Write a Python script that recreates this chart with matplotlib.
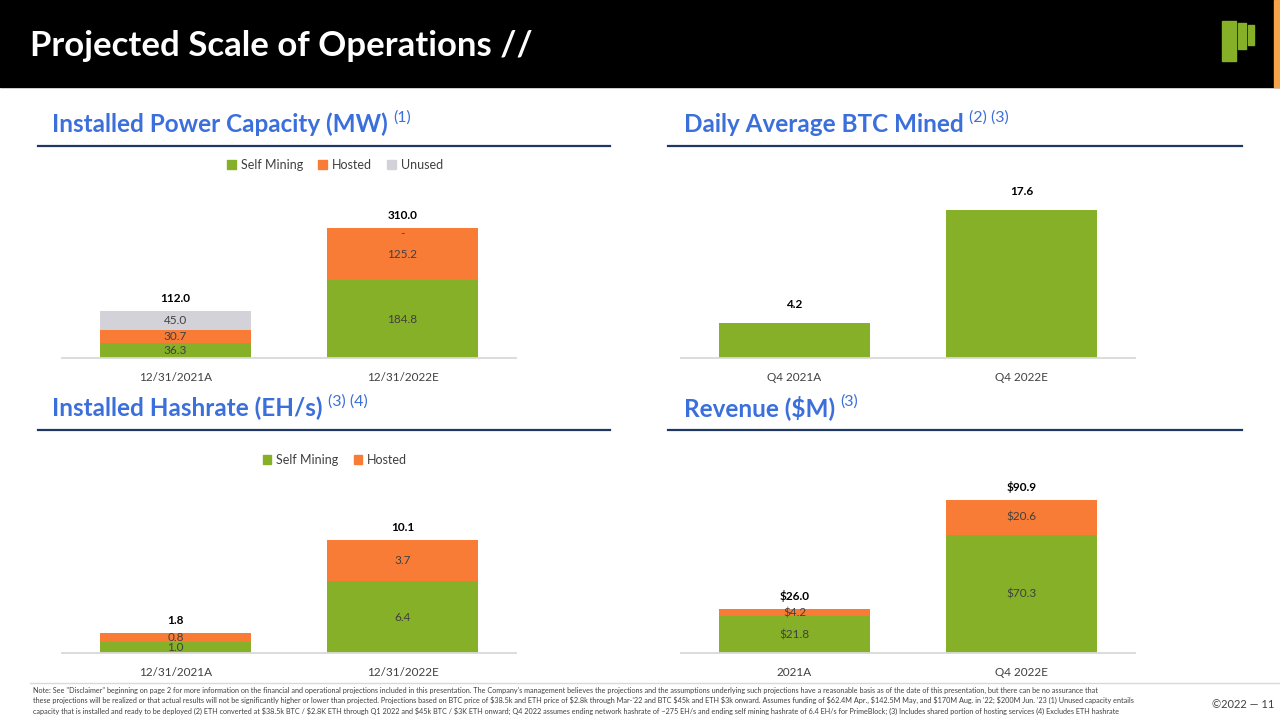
import matplotlib.pyplot as plt
from matplotlib.patches import Patch, Rectangle

# --- data ---
power_cats = ["12/31/2021A", "12/31/2022E"]
power_self = [36.3, 184.8]
power_hosted = [30.7, 125.2]
power_unused = [45.0, 0.0]
power_total = [112.0, 310.0]

btc_cats = ["Q4 2021A", "Q4 2022E"]
btc_mined = [4.2, 17.6]

hash_cats = ["12/31/2021A", "12/31/2022E"]
hash_self = [1.0, 6.4]
hash_hosted = [0.8, 3.7]
hash_total = [1.8, 10.1]

rev_cats = ["2021A", "Q4 2022E"]
rev_self = [21.8, 70.3]
rev_hosted = [4.2, 20.6]
rev_total = [26.0, 90.9]

GREEN = "#86B027"
ORANGE = "#F87C35"
GRAY = "#D2D2D8"
BLUE = "#3B6FDB"
NAVY = "#1F3864"
TXT = "#404040"
FONT = "Lato"

plt.rcParams["font.family"] = [FONT, "DejaVu Sans"]

W, H = 1280, 720
fig = plt.figure(figsize=(12.8, 7.2), dpi=100)


def px(x, y, w, h):
    # pixel box (top-left origin) -> figure fraction
    return [x / W, 1 - (y + h) / H, w / W, h / H]


# header band
fig.patches.append(Rectangle((0, 1 - 87 / H), 1, 87 / H, transform=fig.transFigure,
                             color="black", zorder=0))
fig.patches.append(Rectangle((1274 / W, 1 - 87 / H), 6 / W, 87 / H, transform=fig.transFigure,
                             color="#F5A44A", zorder=1))
for (lx, ly, lw, lh) in [(1222, 21, 14, 40), (1238, 23, 8, 26), (1248, 25, 6, 20)]:
    fig.patches.append(Rectangle((lx / W, 1 - (ly + lh) / H), lw / W, lh / H,
                                 transform=fig.transFigure, color=GREEN, zorder=2))
fig.text(30 / W, 1 - 46 / H, "Projected Scale of Operations //", color="white",
         fontsize=25, fontweight="bold", va="center", ha="left")

renderer = fig.canvas.get_renderer()


def panel_title(x, y, text, sup, line_x0, line_x1, line_y):
    t = fig.text(x / W, 1 - y / H, text, color=BLUE, fontsize=17.5, fontweight="bold",
                 va="center", ha="left")
    bb = t.get_window_extent(renderer)
    fig.text((bb.x1 + 5) / W, 1 - (y - 6) / H, sup, color=BLUE, fontsize=11.5,
             va="center", ha="left")
    fig.add_artist(plt.Line2D([line_x0 / W, line_x1 / W], [1 - line_y / H, 1 - line_y / H],
                              color=NAVY, lw=1.6, transform=fig.transFigure))


def base_axes(rect, cats, ymax):
    ax = fig.add_axes(rect)
    ax.set_xlim(-0.5, 1.5)
    ax.set_ylim(0, ymax)
    for s in ["top", "left", "right"]:
        ax.spines[s].set_visible(False)
    ax.spines["bottom"].set_color("#D9D9D9")
    ax.spines["bottom"].set_linewidth(1.3)
    ax.set_yticks([])
    ax.set_xticks(range(len(cats)))
    ax.set_xticklabels(cats, fontsize=8.5, color=TXT)
    ax.tick_params(axis="x", length=0, pad=10)
    ax.patch.set_alpha(0)
    return ax


def stacked(ax, series, colors, fmt, total, total_fmt, total_off):
    x = range(len(series[0]))
    bottoms = [0] * len(series[0])
    for vals, col in zip(series, colors):
        bars = ax.bar(x, vals, bottom=bottoms, width=0.665, color=col, zorder=2)
        for b, v, btm in zip(bars, vals, bottoms):
            label = fmt.format(v) if v > 0 else "-"
            ax.text(b.get_x() + b.get_width() / 2, btm + v / 2 if v > 0 else btm,
                    label, ha="center", va="center" if v > 0 else "top",
                    fontsize=8.5, color=TXT, zorder=3)
        bottoms = [b + v for b, v in zip(bottoms, vals)]
    for i, t in enumerate(total):
        ax.annotate(total_fmt.format(t), (i, t), xytext=(0, total_off),
                    textcoords="offset points", ha="center", va="bottom",
                    fontsize=8.5, fontweight="bold", color="black")


# --- Installed Power Capacity ---
panel_title(52, 124, "Installed Power Capacity (MW)", "(1)", 38, 610, 146)
ax1 = base_axes(px(62, 190, 454, 168), power_cats, max(power_total) * 1.29)
stacked(ax1, [power_self, power_hosted, power_unused], [GREEN, ORANGE, GRAY],
        "{:.1f}", power_total, "{:.1f}", 5)
ax1.legend(handles=[Patch(color=GREEN, label="Self Mining"), Patch(color=ORANGE, label="Hosted"),
                    Patch(color=GRAY, label="Unused")],
           loc="center", bbox_to_anchor=(335 / W, 1 - 165 / H), bbox_transform=fig.transFigure,
           ncol=3, frameon=False, fontsize=9, handlelength=0.7, handleheight=0.7,
           handletextpad=0.4, columnspacing=1.2, labelcolor=TXT)

# --- Daily Average BTC Mined ---
panel_title(684, 124, "Daily Average BTC Mined", "(2) (3)", 668, 1242, 146)
ax2 = base_axes(px(681, 190, 454, 168), btc_cats, max(btc_mined) * 1.135)
bars = ax2.bar(range(2), btc_mined, width=0.665, color=GREEN, zorder=2)
for i, v in enumerate(btc_mined):
    ax2.annotate("{:.1f}".format(v), (i, v), xytext=(0, 9), textcoords="offset points",
                 ha="center", va="bottom", fontsize=8.5, fontweight="bold", color="black")

# --- Installed Hashrate ---
panel_title(52, 408, "Installed Hashrate (EH/s)", "(3) (4)", 38, 610, 430)
ax3 = base_axes(px(62, 480, 454, 173), hash_cats, max(hash_total) * 1.53)
stacked(ax3, [hash_self, hash_hosted], [GREEN, ORANGE], "{:.1f}", hash_total, "{:.1f}", 5)
ax3.legend(handles=[Patch(color=GREEN, label="Self Mining"), Patch(color=ORANGE, label="Hosted")],
           loc="center", bbox_to_anchor=(335 / W, 1 - 460 / H), bbox_transform=fig.transFigure,
           ncol=2, frameon=False, fontsize=9, handlelength=0.7, handleheight=0.7,
           handletextpad=0.4, columnspacing=1.2, labelcolor=TXT)

# --- Revenue ---
panel_title(684, 408, "Revenue ($M)", "(3)", 668, 1242, 430)
ax4 = base_axes(px(681, 480, 454, 173), rev_cats, max(rev_total) * 1.13)
stacked(ax4, [rev_self, rev_hosted], [GREEN, ORANGE], "${:.1f}", rev_total, "${:.1f}", 5)

# --- footer ---
fig.add_artist(plt.Line2D([30 / W, 1], [1 - 683 / H, 1 - 683 / H], color="#D9D9D9", lw=1,
                          transform=fig.transFigure))
note = ("Note: See \"Disclaimer\" beginning on page 2 for more information on the financial and operational "
        "projections included in this presentation. The Company's management believes the projections and the "
        "assumptions underlying such projections have a reasonable basis as of the date of this presentation, "
        "but there can be no assurance that\n"
        "these projections will be realized or that actual results will not be significantly higher or lower than "
        "projected. Projections based on BTC price of $38.5k and ETH price of $2.8k through Mar-'22 and BTC $45k "
        "and ETH $3k onward. Assumes funding of $62.4M Apr., $142.5M May, and $170M Aug. in '22; $200M Jun. '23 "
        "(1) Unused capacity entails\n"
        "capacity that is installed and ready to be deployed (2) ETH converted at $38.5k BTC / $2.8K ETH through "
        "Q1 2022 and $45k BTC / $3K ETH onward; Q4 2022 assumes ending network hashrate of ~275 EH/s and ending "
        "self mining hashrate of 6.4 EH/s for PrimeBlock; (3) Includes shared portion of hosting services "
        "(4) Excludes ETH hashrate")
fig.text(33 / W, 1 - 687 / H, note, fontsize=5.2, color=TXT, va="top", ha="left",
         linespacing=1.42, parse_math=False)
fig.text(1212 / W, 1 - 704 / H, "\u00a92022 \u2014 11", fontsize=8, color=TXT, va="center", ha="left")

fig.savefig("out.png", dpi=100)
